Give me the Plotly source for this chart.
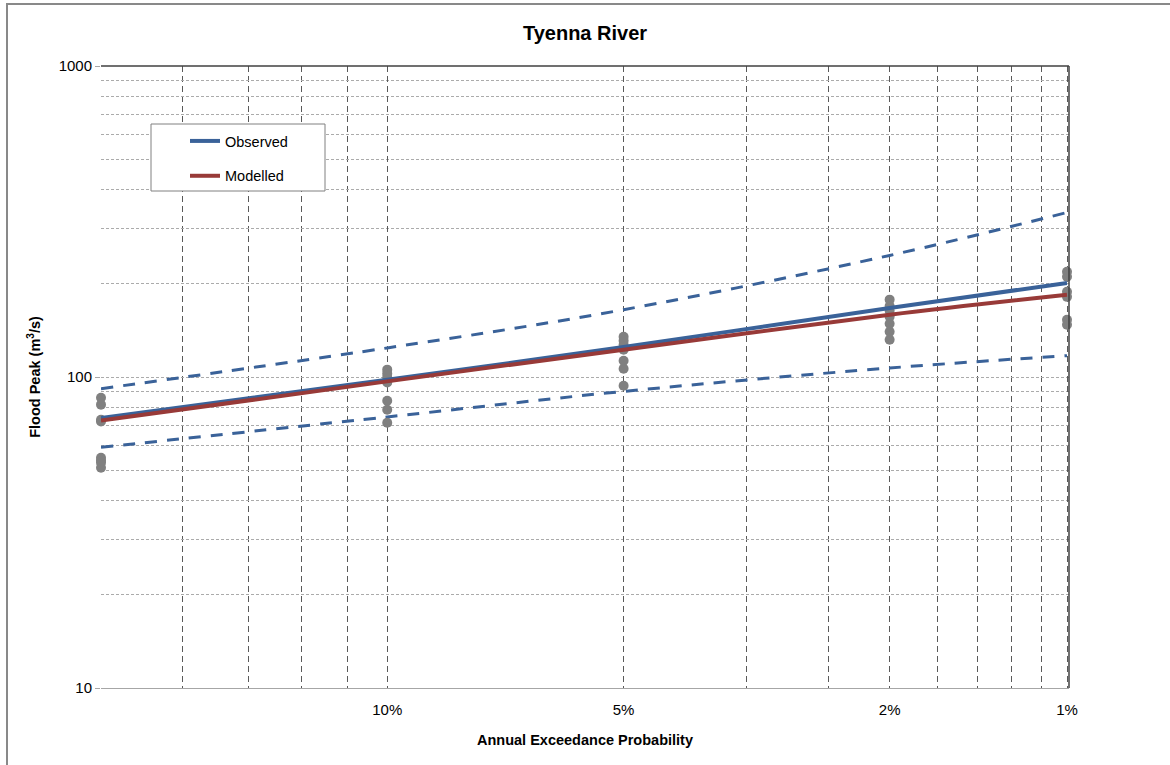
from statistics import NormalDist
import plotly.graph_objects as go

# ---------------- data ----------------
aep = [0.20, 0.10, 0.05, 0.02, 0.01]            # annual exceedance probability
observed = [73.8, 98.0, 124.9, 166.7, 200.6]
modelled = [72.4, 96.8, 122.4, 158.6, 183.9]
upper_cl = [91.7, 124.0, 164.6, 246.0, 338.0]
lower_cl = [59.4, 74.4, 89.9, 106.9, 117.1]

sample_aep = [0.20] * 8 + [0.10] * 7 + [0.05] * 7 + [0.02] * 7 + [0.01] * 6
sample_peak = [85.8, 81.5, 72.9, 71.9, 55.0, 53.9, 53.0, 51.1,
               105.6, 102.5, 99.6, 96.0, 83.9, 78.5, 71.3,
               134.8, 130.9, 127.0, 122.4, 112.8, 106.3, 93.7,
               177.3, 169.1, 163.4, 156.3, 148.4, 139.8, 131.8,
               218.0, 210.0, 188.0, 181.0, 152.8, 147.3]

label_aep = [0.10, 0.05, 0.02, 0.01]
label_text = ["10%", "5%", "2%", "1%"]
grid_ari = [5, 6, 7, 8, 9, 30, 40, 60, 70, 80, 90]
y_labels = [10, 100, 1000]
y_grid = [20, 30, 40, 50, 60, 70, 80, 90, 100, 200, 300, 400, 500, 600, 700, 800, 900]

# ---------------- helpers ----------------
nd = NormalDist()
def z(p):
    return nd.inv_cdf(1 - p)

BLUE = "#3A6299"
RED = "#983A38"
GREY = "#808080"
FONT = "Liberation Sans, Arial, sans-serif"

fig = go.Figure()

fig.add_trace(go.Scatter(x=[z(p) for p in aep], y=upper_cl, mode="lines",
                         line=dict(color=BLUE, width=3, dash="12px,10px", shape="spline"),
                         showlegend=False, hoverinfo="skip"))
fig.add_trace(go.Scatter(x=[z(p) for p in aep], y=lower_cl, mode="lines",
                         line=dict(color=BLUE, width=3, dash="12px,10px", shape="spline"),
                         showlegend=False, hoverinfo="skip"))
fig.add_trace(go.Scatter(x=[z(p) for p in sample_aep], y=sample_peak, mode="markers",
                         marker=dict(color=GREY, size=10), showlegend=False, cliponaxis=False))
fig.add_trace(go.Scatter(x=[z(p) for p in aep], y=observed, mode="lines", name="Observed",
                         line=dict(color=BLUE, width=4, shape="spline"), legendgroup="a"))
fig.add_trace(go.Scatter(x=[z(p) for p in aep], y=modelled, mode="lines", name="Modelled",
                         line=dict(color=RED, width=4, shape="spline"), legendgroup="b"))

W, H = 1170, 765
L, R, T, B = 101, 1069, 66, 688
pw, ph = R - L, B - T

def px(xr):                  # page pixel x -> paper
    return (xr - L) / pw

def py(yr):                  # page pixel y -> paper
    return 1 - (yr - T) / ph

x0 = z(0.20)
x1 = z(0.01) + 2 / 652

fig.update_layout(
    width=W, height=H,
    margin=dict(l=L, r=W - R, t=T, b=H - B),
    paper_bgcolor="white", plot_bgcolor="white",
    font=dict(family=FONT, size=14.5, color="#000000"),
    title=dict(text="<b>Tyenna River</b>", x=px(585), xref="paper", xanchor="center",
               y=1 - 33 / H, yanchor="middle", font=dict(size=20)),
    xaxis=dict(
        range=[x0, x1], tickmode="array",
        tickvals=[z(p) for p in label_aep], ticktext=label_text,
        tickfont=dict(size=15),
        showgrid=True, gridcolor="#595959", griddash="6px,4px", gridwidth=1,
        minor=dict(tickmode="array", tickvals=[z(1 / a) for a in grid_ari] + [x0],
                   showgrid=True, gridcolor="#595959", griddash="6px,4px", gridwidth=1,
                   ticks=""),
        ticks="outside", ticklen=8, tickcolor="rgba(0,0,0,0)",
        showline=True, linecolor="#A6A6A6", linewidth=1,
        zeroline=False,
        title=dict(text="<b>Annual Exceedance Probability</b>", font=dict(size=14.5), standoff=17),
    ),
    yaxis=dict(
        type="log", range=[1, 3], tickmode="array",
        tickvals=y_labels, ticktext=[str(v) for v in y_labels],
        tickfont=dict(size=15),
        showgrid=False,
        minor=dict(tickmode="array", tickvals=y_grid, showgrid=True,
                   gridcolor="#ABABAB", griddash="3px,2px", gridwidth=1, ticks=""),
        ticks="outside", ticklen=5, tickcolor="#A6A6A6",
        showline=False, zeroline=False,
        title=dict(text="<b>Flood Peak (m<sup>3</sup>/s)</b>", font=dict(size=14.5), standoff=14),
    ),
    legend=dict(x=px(185), y=py(125), xanchor="left", yanchor="top",
                bgcolor="rgba(0,0,0,0)", borderwidth=0,
                font=dict(size=14.5), traceorder="grouped", tracegroupgap=13),
    shapes=[
        # legend box
        dict(type="rect", xref="paper", yref="paper", x0=px(151), x1=px(325),
             y0=py(191), y1=py(124), line=dict(color="#808080", width=1),
             fillcolor="white", layer="above"),
        # plot top / right borders
        dict(type="line", xref="paper", yref="paper", x0=0, x1=1, y0=1, y1=1,
             line=dict(color="#404040", width=1.5)),
        dict(type="line", xref="paper", yref="paper", x0=1, x1=1, y0=0, y1=1,
             line=dict(color="#404040", width=1.5)),
        # chart border
        dict(type="rect", xref="paper", yref="paper", x0=px(7), x1=px(1190),
             y0=py(790), y1=py(4), line=dict(color="#898989", width=2),
             fillcolor="rgba(0,0,0,0)"),
    ],
)

fig.write_html("out.html", config={"displayModeBar": False},
               post_script="document.body.style.margin='0';document.body.style.overflow='hidden';")
